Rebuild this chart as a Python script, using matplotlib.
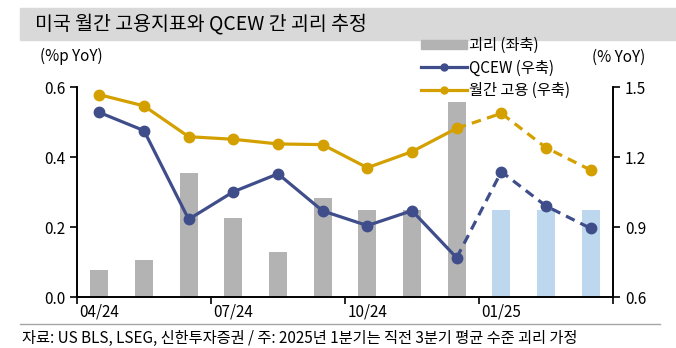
import numpy as np
import matplotlib
matplotlib.use('Agg')
import matplotlib.pyplot as plt
from matplotlib.patches import Rectangle
from matplotlib.lines import Line2D

plt.rcParams['font.family'] = ['Noto Sans CJK KR', 'DejaVu Sans']

months = ['04/24', '05/24', '06/24', '07/24', '08/24', '09/24',
          '10/24', '11/24', '12/24', '01/25', '02/25', '03/25']
gap = [0.077, 0.105, 0.355, 0.227, 0.128, 0.284,
       0.248, 0.250, 0.558, 0.249, 0.249, 0.249]
qcew = [1.391, 1.313, 0.933, 1.051, 1.128, 0.969,
        0.906, 0.970, 0.768, 1.137, 0.990, 0.894]
monthly = [1.467, 1.419, 1.287, 1.276, 1.256, 1.253,
           1.154, 1.223, 1.323, 1.387, 1.240, 1.144]
n_actual = 9  # last 3 are estimates
tick_labels = ['04/24', '07/24', '10/24', '01/25']

GRAY = '#B3B3B3'
LBLUE = '#BDD7EE'
NAVY = '#3F4E8A'
GOLD = '#D4A000'

fig = plt.figure(figsize=(6.76, 3.48), dpi=100)

# title band
fig.patches.append(Rectangle((20 / 676, 1 - 40 / 348), 656 / 676, 32 / 348,
                             transform=fig.transFigure, color='#D9D9D9', zorder=0))
fig.text(35 / 676, 1 - 24 / 348, '미국 월간 고용지표와 QCEW 간 괴리 추정',
         fontsize=14, va='center', ha='left')

ax = fig.add_axes([77 / 676, 1 - 297 / 348, 536 / 676, 210 / 348])
ax2 = ax.twinx()

x = np.arange(len(months))
colors = [GRAY] * n_actual + [LBLUE] * (len(months) - n_actual)
ax.bar(x, gap, width=0.4, color=colors, zorder=1)
ax.set_ylim(0, 0.6)
ax.set_yticks([0.0, 0.2, 0.4, 0.6])
ax.set_yticklabels(['0.0', '0.2', '0.4', '0.6'])
ax.set_xlim(-0.5, len(months) - 0.5)

lw, ms = 2.3, 7.5
k = n_actual
ax2.plot(x[:k], qcew[:k], color=NAVY, lw=lw, marker='o', ms=ms)
ax2.plot(x[k - 1:], qcew[k - 1:], color=NAVY, lw=lw, ls=(0, (3, 2)), marker='o', ms=ms,
         markevery=list(range(1, len(months) - k + 1)))
ax2.plot(x[:k], monthly[:k], color=GOLD, lw=lw, marker='o', ms=ms)
ax2.plot(x[k - 1:], monthly[k - 1:], color=GOLD, lw=lw, ls=(0, (3, 2)), marker='o', ms=ms,
         markevery=list(range(1, len(months) - k + 1)))
ax2.set_ylim(0.6, 1.5)
ax2.set_yticks([0.6, 0.9, 1.2, 1.5])
ax2.set_yticklabels(['0.6', '0.9', '1.2', '1.5'])

# x ticks at quarter boundaries, labels under first month
ax.set_xticks([-0.5, 2.5, 5.5, 8.5, 11.5])
ax.set_xticklabels([])
ax.set_xticks([0, 3, 6, 9], minor=True)
ax.set_xticklabels(tick_labels, minor=True)
ax.tick_params(axis='x', which='minor', length=0, pad=5)
ax.tick_params(axis='x', which='major', length=5, width=1.2, direction='out')

for a in (ax, ax2):
    a.spines['top'].set_visible(False)
    for s in ('left', 'right', 'bottom'):
        a.spines[s].set_linewidth(1.2)
    a.tick_params(which='both', labelsize=11, colors='black')
ax.tick_params(axis='y', length=5, width=1.2)
ax2.tick_params(axis='y', length=5, width=1.2)

fig.text(40 / 676, 1 - 56 / 348, '(%p YoY)', fontsize=11, va='center')
fig.text(592 / 676, 1 - 57 / 348, '(% YoY)', fontsize=11, va='center')

handles = [
    Rectangle((0, 0), 1, 1, color=GRAY),
    Line2D([], [], color=NAVY, lw=lw, marker='o', ms=5),
    Line2D([], [], color=GOLD, lw=lw, marker='o', ms=5),
]
labels = ['괴리 (좌축)', 'QCEW (우축)', '월간 고용 (우축)']
fig.legend(handles, labels, loc='upper left', bbox_to_anchor=(421 / 676, 1 - 37 / 348),
           frameon=False, fontsize=11, handlelength=3.0, handleheight=0.5,
           handletextpad=0.15, labelspacing=0.35, borderaxespad=0, borderpad=0)

# footer
fig.add_artist(Line2D([20 / 676, 660 / 676], [1 - 324 / 348, 1 - 324 / 348],
                      transform=fig.transFigure, color='#A6A6A6', lw=1))
fig.text(22 / 676, 1 - 338 / 348,
         '자료: US BLS, LSEG, 신한투자증권 / 주: 2025년 1분기는 직전 3분기 평균 수준 괴리 가정',
         fontsize=11, va='center', ha='left')

fig.savefig('out.png', dpi=100)
plt.close(fig)
